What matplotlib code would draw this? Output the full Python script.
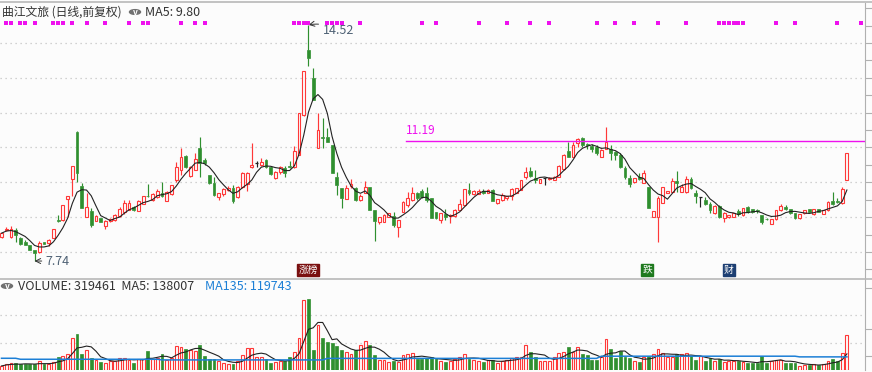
import numpy as np
import pandas as pd
import matplotlib
matplotlib.use('Agg')
import matplotlib.pyplot as plt
from matplotlib.patches import Circle

plt.rcParams['font.family'] = ['Noto Sans CJK SC', 'DejaVu Sans']

# daily candles, oldest first (prices in yuan)
opens = [8.42, 8.62, 8.42, 8.63, 8.39, 8.30, 8.20, 8.06, 7.99, 8.29,
         8.25, 8.40, 8.93, 8.92, 9.53, 10.09, 11.45, 9.88, 9.01, 9.19,
         8.90, 8.97, 8.75, 8.88, 8.92, 9.02, 9.16, 9.21, 9.30, 9.19,
         9.38, 9.62, 9.49, 9.59, 9.70, 9.45, 9.66, 10.07, 10.35, 10.76,
         10.18, 10.35, 10.99, 10.64, 10.21, 9.97, 9.59, 9.66, 9.78, 9.83,
         9.57, 9.86, 9.95, 10.43, 10.55, 10.50, 10.64, 10.45, 10.11, 10.30,
         10.42, 10.46, 10.43, 10.78, 11.93, 13.80, 12.99, 10.98, 11.30, 11.29,
         11.07, 10.16, 9.83, 9.51, 9.88, 9.83, 9.49, 9.70, 9.87, 9.20,
         8.85, 8.87, 9.01, 9.03, 8.73, 9.16, 9.35, 9.49, 9.70, 9.76,
         9.68, 9.54, 9.16, 8.92, 9.10, 9.02, 9.02, 9.21, 9.35, 9.78,
         9.66, 9.67, 9.75, 9.70, 9.78, 9.40, 9.49, 9.54, 9.61, 9.70,
         9.78, 10.14, 10.33, 10.11, 9.99, 10.13, 10.09, 10.07, 10.16, 10.37,
         10.90, 10.74, 11.12, 11.26, 11.09, 11.04, 11.00, 10.74, 10.97, 10.95,
         10.88, 10.78, 10.40, 10.11, 10.00, 10.16, 9.97, 9.87, 8.99, 8.99,
         9.42, 9.70, 9.73, 10.04, 9.73, 9.71, 10.09, 9.70, 9.59, 9.49,
         9.38, 9.11, 9.32, 8.97, 8.99, 9.01, 9.19, 9.06, 9.30, 9.22,
         9.20, 9.06, 8.96, 8.81, 8.94, 9.20, 9.28, 9.22, 9.11, 8.97,
         9.11, 9.23, 9.09, 9.23, 9.09, 9.20, 9.46, 9.45, 9.40, 10.08]
highs = [8.55, 8.71, 8.75, 8.68, 8.44, 8.33, 8.20, 8.06, 8.32, 8.30,
         8.38, 8.65, 9.06, 9.35, 9.60, 10.48, 11.47, 9.97, 9.70, 9.25,
         9.05, 8.98, 8.92, 8.97, 9.10, 9.30, 9.50, 9.50, 9.33, 9.50,
         9.62, 9.95, 9.70, 9.80, 10.02, 9.75, 9.92, 10.57, 10.98, 10.78,
         10.46, 10.83, 11.31, 10.70, 10.22, 10.14, 9.70, 9.83, 9.90, 9.92,
         9.90, 10.30, 10.30, 11.12, 10.60, 10.70, 10.66, 10.47, 10.32, 10.48,
         10.48, 10.60, 11.04, 11.98, 13.20, 14.52, 13.27, 12.00, 11.86, 11.55,
         11.07, 10.30, 9.83, 9.92, 10.09, 9.87, 9.66, 10.04, 9.87, 9.20,
         9.00, 9.08, 9.12, 9.16, 8.92, 9.46, 9.73, 9.87, 9.73, 9.80,
         9.87, 9.54, 9.16, 9.11, 9.22, 9.10, 9.22, 9.52, 9.80, 9.99,
         9.79, 9.80, 9.80, 9.80, 9.80, 9.52, 9.70, 9.62, 9.85, 9.85,
         10.08, 10.43, 10.45, 10.35, 10.10, 10.13, 10.14, 10.18, 10.50, 10.80,
         11.17, 11.15, 11.26, 11.29, 11.12, 11.10, 11.07, 10.95, 11.60, 11.07,
         10.90, 10.83, 10.47, 10.21, 10.12, 10.26, 10.35, 9.87, 9.18, 9.61,
         9.86, 9.75, 10.11, 10.32, 9.95, 10.18, 10.14, 9.78, 9.59, 9.57,
         9.44, 9.35, 9.34, 9.15, 9.07, 9.13, 9.23, 9.27, 9.32, 9.24,
         9.24, 9.07, 8.97, 8.95, 9.21, 9.38, 9.35, 9.24, 9.13, 9.10,
         9.20, 9.24, 9.23, 9.24, 9.20, 9.45, 9.73, 9.54, 9.87, 10.84]
lows = [8.40, 8.60, 8.40, 8.30, 8.20, 8.19, 8.05, 7.74, 7.98, 8.22,
        8.17, 8.40, 8.87, 8.90, 9.00, 9.60, 10.02, 9.25, 9.00, 8.73,
        8.88, 8.86, 8.67, 8.86, 8.90, 9.00, 9.10, 9.20, 9.17, 9.18,
        9.37, 9.58, 9.45, 9.55, 9.57, 9.45, 9.65, 10.02, 10.21, 10.40,
        10.15, 10.35, 10.16, 10.50, 9.96, 9.62, 9.49, 9.62, 9.76, 9.40,
        9.55, 9.85, 9.76, 10.40, 10.43, 10.48, 10.40, 10.20, 10.10, 10.25,
        10.16, 10.40, 10.42, 10.78, 11.90, 13.35, 12.36, 10.98, 10.98, 11.15,
        10.26, 9.64, 9.25, 9.51, 9.83, 9.45, 9.45, 9.70, 9.20, 8.32,
        8.80, 8.85, 9.00, 8.73, 8.44, 9.14, 9.30, 9.47, 9.50, 9.55,
        9.44, 8.97, 8.95, 8.84, 8.92, 8.84, 9.00, 9.20, 9.33, 9.64,
        9.64, 9.66, 9.66, 9.68, 9.45, 9.39, 9.47, 9.50, 9.49, 9.68,
        9.77, 10.10, 10.16, 9.97, 9.98, 9.92, 10.07, 10.06, 10.14, 10.35,
        10.72, 10.72, 11.02, 11.02, 10.95, 10.88, 10.78, 10.72, 10.97, 10.64,
        10.64, 10.40, 10.10, 9.86, 9.98, 10.07, 9.97, 9.25, 8.99, 8.30,
        9.40, 9.70, 9.72, 9.73, 9.72, 9.70, 9.80, 9.42, 9.30, 9.35,
        9.11, 9.10, 8.97, 8.87, 8.98, 9.00, 9.03, 9.04, 9.13, 9.11,
        9.13, 8.80, 8.93, 8.80, 8.93, 9.18, 9.20, 9.08, 8.95, 8.96,
        9.10, 9.14, 9.07, 9.14, 9.08, 9.19, 9.35, 9.40, 9.39, 10.08]
closes = [8.54, 8.66, 8.65, 8.49, 8.23, 8.20, 8.06, 7.96, 8.27, 8.23,
          8.35, 8.65, 8.90, 9.35, 9.60, 10.48, 10.26, 9.25, 9.30, 8.78,
          9.02, 8.87, 8.90, 8.95, 9.06, 9.23, 9.42, 9.40, 9.20, 9.45,
          9.61, 9.60, 9.66, 9.76, 9.61, 9.73, 9.91, 10.45, 10.74, 10.45,
          10.45, 10.66, 10.55, 10.55, 9.97, 9.64, 9.68, 9.80, 9.85, 9.45,
          9.86, 10.26, 10.28, 10.49, 10.55, 10.59, 10.43, 10.24, 10.30, 10.45,
          10.26, 10.44, 10.90, 11.98, 13.20, 13.56, 12.36, 11.50, 11.28, 11.17,
          10.26, 9.92, 9.54, 9.83, 9.95, 9.49, 9.62, 9.87, 9.20, 8.90,
          9.00, 9.06, 9.11, 8.78, 8.92, 9.44, 9.54, 9.70, 9.54, 9.59,
          9.49, 8.97, 8.97, 9.11, 8.99, 9.07, 9.21, 9.37, 9.80, 9.70,
          9.76, 9.75, 9.70, 9.78, 9.47, 9.51, 9.64, 9.60, 9.81, 9.83,
          10.07, 10.29, 10.18, 10.07, 10.09, 10.13, 10.13, 10.16, 10.47, 10.77,
          10.74, 11.07, 11.23, 11.07, 11.07, 10.95, 10.85, 10.93, 11.15, 10.83,
          10.78, 10.43, 10.14, 9.95, 10.11, 10.09, 10.26, 9.25, 9.18, 9.54,
          9.86, 9.75, 10.05, 9.99, 9.87, 10.09, 9.83, 9.62, 9.59, 9.38,
          9.21, 9.32, 8.99, 9.13, 9.05, 9.11, 9.09, 9.25, 9.16, 9.16,
          9.18, 8.87, 8.94, 8.95, 9.20, 9.32, 9.23, 9.11, 8.97, 9.09,
          9.20, 9.16, 9.22, 9.16, 9.20, 9.44, 9.38, 9.44, 9.80, 10.84]
# traded volume per day (thousand lots)
volumes = [37, 55, 61, 61, 52, 52, 52, 52, 82, 52,
           52, 70, 116, 128, 146, 289, 328, 146, 183, 110,
           91, 73, 67, 85, 85, 110, 110, 91, 67, 97,
           97, 177, 97, 110, 146, 91, 110, 219, 213, 189,
           183, 177, 228, 128, 97, 97, 82, 64, 55, 55,
           85, 137, 201, 198, 116, 116, 97, 67, 76, 85,
           85, 116, 167, 289, 639, 648, 183, 411, 289, 259,
           243, 219, 183, 167, 146, 183, 228, 265, 228, 137,
           91, 91, 70, 85, 76, 137, 146, 152, 100, 97,
           107, 116, 97, 85, 76, 85, 97, 116, 146, 97,
           91, 85, 70, 91, 91, 61, 85, 91, 113, 116,
           116, 228, 167, 116, 85, 85, 85, 116, 158, 167,
           210, 167, 210, 146, 137, 91, 91, 116, 280, 189,
           107, 174, 116, 107, 82, 70, 116, 131, 146, 189,
           152, 116, 116, 143, 143, 152, 128, 91, 128, 82,
           107, 85, 97, 76, 85, 85, 82, 70, 61, 61,
           61, 128, 67, 85, 91, 91, 67, 67, 61, 37,
           46, 46, 52, 46, 52, 82, 97, 85, 152, 319.461]
volumes = [vol * 1000 for vol in volumes]
# MA135 of volume as shown (start index, value)
ma135_steps = [(0, 107000), (4, 98000), (34, 92000), (69, 106000), (127, 126000), (169, 119743)]
# magenta signal marks along the top
signal_days = [1, 2, 4, 5, 7, 11, 12, 13, 15, 18, 22, 27, 30, 31, 38, 41, 43,
               62, 63, 64, 65, 69, 70, 71, 72, 76, 89, 92, 101, 107, 112, 116,
               126, 130, 134, 139, 145, 152, 153, 154, 155, 156, 157, 164, 168, 177, 182]
high_day, low_day = 65, 7
line_price, line_start = 11.19, 85.6

title = '曲江文旅 (日线,前复权)'
ma_text = 'MA5: 9.80'
vol_text = 'VOLUME: 319461  MA5: 138007'
vol_ma_text = 'MA135: 119743'
tags = [(64.9, '涨榜', '#7a1010'), (136.7, '跌', '#1f7a1f'), (154.0, '财', '#1d3f73')]

RED = '#ff3838'
GREEN = '#2f8f2f'
BLACK = '#222222'
MAGENTA = '#ee11ee'
BLUE = '#1c7fd6'
GRID = '#c4c4c4'
W, H = 872, 372


def fx(px):
    return px / W


def fy(py):
    return 1 - py / H


o = np.array(opens)
h = np.array(highs)
l = np.array(lows)
c = np.array(closes)
v = np.array(volumes)
x = np.arange(len(c))
up = c > o
down = c < o
flat = c == o
cols = np.where(up, RED, np.where(down, GREEN, BLACK))

ma5 = pd.Series(c).rolling(5, min_periods=1).mean()
vma5 = pd.Series(v).rolling(5, min_periods=1).mean()
ma135 = np.zeros(len(v))
for start, val in ma135_steps:
    ma135[start:] = val

fig = plt.figure(figsize=(W / 100, H / 100), dpi=100)
fig.patch.set_facecolor('#fcfcfc')

xlim = (-0.318, 182.83)
bw = 0.6

# ---- price panel
ax = fig.add_axes([0, fy(278), fx(865), 275 / H])
ax.set_facecolor('#fcfcfc')
ax.set_xlim(*xlim)
ax.set_ylim(7.253, 15.148)
for p in range(8, 15):
    ax.axhline(p, color=GRID, lw=0.9, ls=(0, (1, 3)), zorder=0)

top = np.maximum(o, c)
bot = np.minimum(o, c)
ax.vlines(x, top, h, colors=cols, lw=0.85, zorder=2)
ax.vlines(x, l, bot, colors=cols, lw=0.85, zorder=2)
ax.bar(x[up], (c - o)[up], bottom=o[up], width=bw, facecolor='#fcfcfc',
       edgecolor=RED, lw=0.8, zorder=3)
ax.bar(x[down], (o - c)[down], bottom=c[down], width=bw, color=GREEN,
       edgecolor=GREEN, lw=0.5, zorder=3)
ax.hlines(c[flat], x[flat] - bw / 2, x[flat] + bw / 2, colors=BLACK, lw=0.9, zorder=3)
ax.plot(x, ma5, color=BLACK, lw=0.8, zorder=4)

# high / low notes
ax.annotate('14.52', xy=(high_day, h[high_day]), xytext=(high_day + 3.0, h[high_day] - 0.17),
            fontsize=9, color='#4f6275', va='center',
            arrowprops=dict(arrowstyle='->', color='#333333', lw=0.7,
                            connectionstyle='arc3,rad=0.2', shrinkA=1, shrinkB=0))
ax.annotate('7.74', xy=(low_day, l[low_day]), xytext=(low_day + 2.4, l[low_day]),
            fontsize=9, color='#4f6275', va='center',
            arrowprops=dict(arrowstyle='->', color='#333333', lw=0.7, shrinkA=1, shrinkB=0))

# horizontal level
ax.plot([line_start, xlim[1]], [line_price, line_price], color=MAGENTA, lw=1.0, zorder=4)
ax.text(line_start, line_price + 0.12, f'{line_price:.2f}', color=MAGENTA, fontsize=8.5,
        va='bottom', ha='left')

# signal marks
trans = ax.get_xaxis_transform()
ax.scatter(signal_days, [0.926] * len(signal_days), marker='s', s=5, color=MAGENTA,
           transform=trans, zorder=5, linewidths=0)

for pos, label, col in tags:
    ax.text(pos, 0.03, label, transform=trans, fontsize=7, color='white', ha='center',
            va='center', bbox=dict(boxstyle='square,pad=0.1', fc=col, ec=col))

ax.set_xticks([])
ax.set_yticks(np.arange(7.5, 15.01, 0.5))
ax.set_yticklabels([])
ax.yaxis.tick_right()
ax.tick_params(axis='y', direction='out', length=6, color='#b0b0b0', width=0.8)
for s in ['top', 'left', 'bottom']:
    ax.spines[s].set_visible(False)
ax.spines['right'].set_color('#b0b0b0')

# ---- volume panel
av = fig.add_axes([0, fy(370), fx(865), 91 / H])
av.set_facecolor('#fcfcfc')
av.set_xlim(*xlim)
av.set_ylim(0, 830600)
for g in (250000, 500000):
    av.axhline(g, color=GRID, lw=0.9, ls=(0, (1, 3)), zorder=0)
vup = c >= o
av.bar(x[vup], v[vup], width=bw, facecolor='#fcfcfc', edgecolor=RED, lw=0.8, zorder=2)
av.bar(x[~vup], v[~vup], width=bw, color=GREEN, edgecolor=GREEN, lw=0.5, zorder=2)
av.plot(x, vma5, color=BLACK, lw=0.8, zorder=3)
av.plot(x, ma135, color=BLUE, lw=1.1, zorder=3)
av.set_xticks([])
av.set_yticks([125000, 375000, 750000])
av.set_yticklabels([])
av.yaxis.tick_right()
av.tick_params(axis='y', direction='out', length=6, color='#b0b0b0', width=0.8)
for s in ['top', 'left', 'bottom']:
    av.spines[s].set_visible(False)
av.spines['right'].set_color('#b0b0b0')

# frame lines
fig.add_artist(plt.Line2D([0, 1], [fy(2), fy(2)], color='#b8b8b8', lw=1.2))
fig.add_artist(plt.Line2D([0, 1], [fy(278.5), fy(278.5)], color='#b8b8b8', lw=1.2))

# headers
fig.text(fx(2), fy(12), title, fontsize=8.5, color='#333333', va='center', ha='left')
fig.add_artist(Circle((fx(135), fy(12)), 5.5 / W, transform=fig.transFigure,
                      color='#707070'))
fig.text(fx(135), fy(12.5), 'v', fontsize=6, color='white', ha='center', va='center',
         weight='bold')
fig.text(fx(145), fy(12), ma_text, fontsize=9, color='#333333', va='center', ha='left')

fig.add_artist(Circle((fx(7), fy(286)), 5.5 / W, transform=fig.transFigure,
                      color='#707070'))
fig.text(fx(7), fy(286.5), 'v', fontsize=6, color='white', ha='center', va='center',
         weight='bold')
fig.text(fx(18), fy(286), vol_text, fontsize=9, color='#333333', va='center', ha='left')
fig.text(fx(205), fy(286), vol_ma_text, fontsize=9, color=BLUE, va='center', ha='left')

fig.savefig('out.png', dpi=100, facecolor=fig.get_facecolor())
plt.close(fig)
